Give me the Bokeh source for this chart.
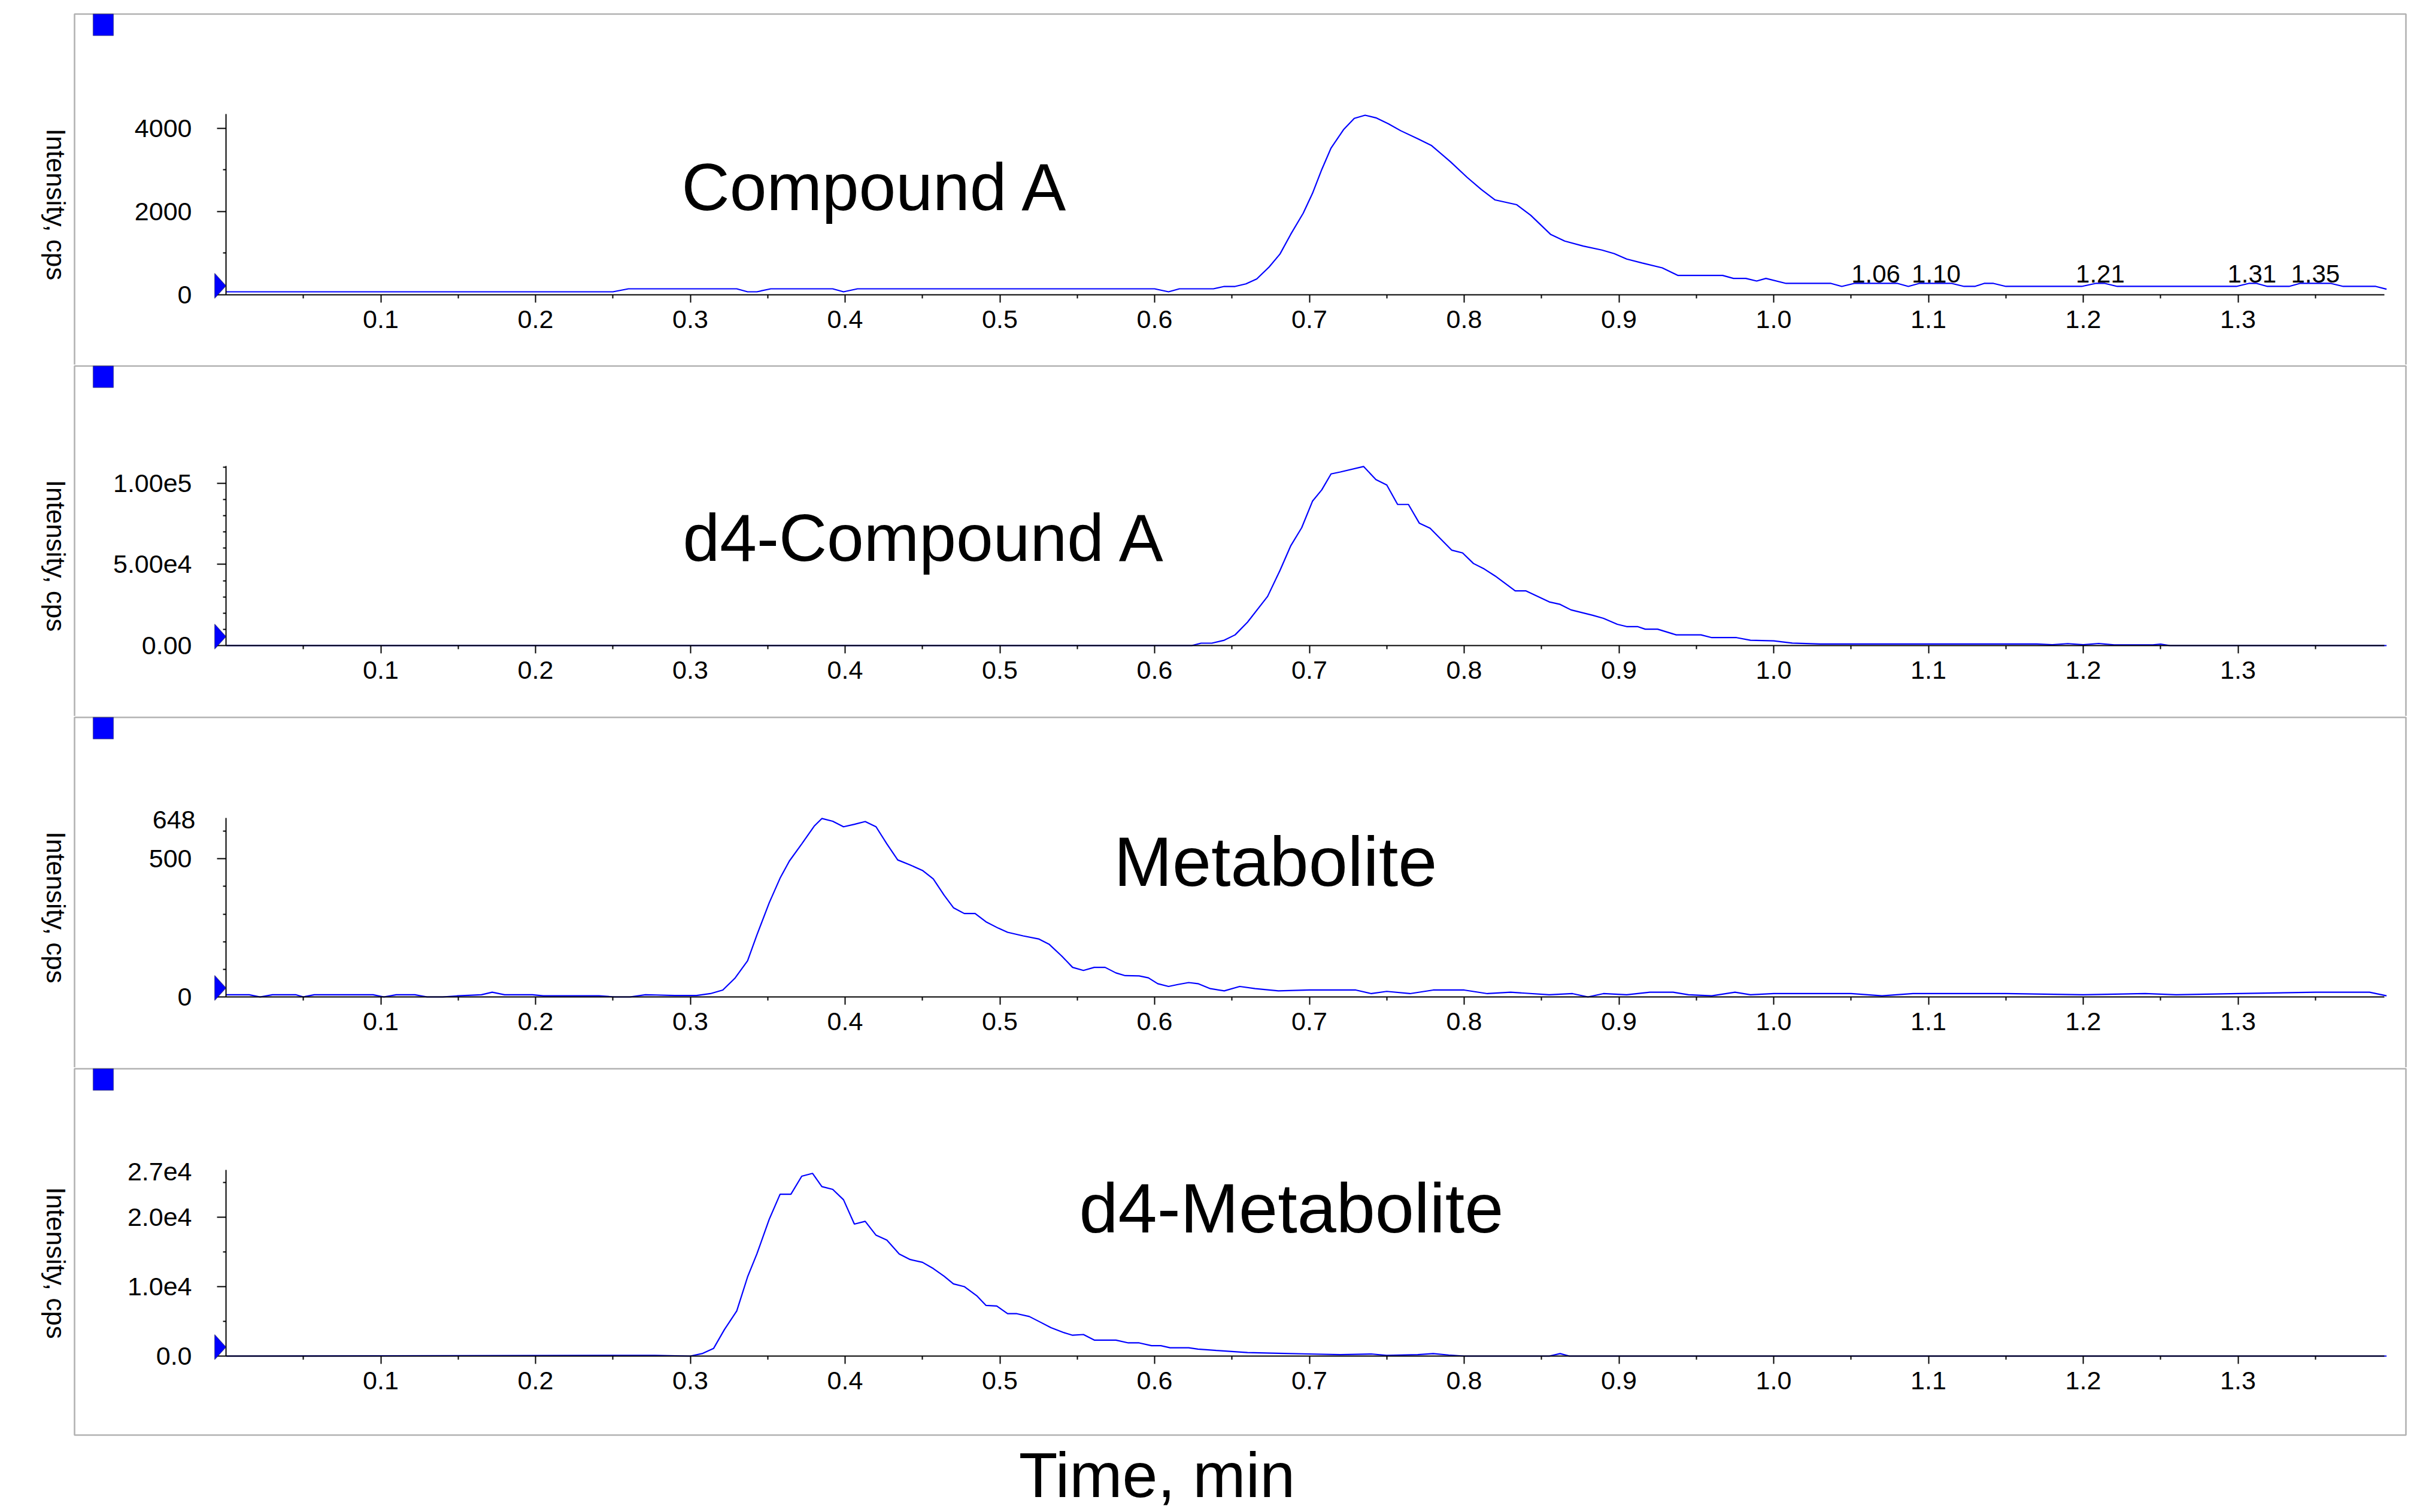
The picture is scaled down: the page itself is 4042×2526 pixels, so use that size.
import math

from bokeh.plotting import figure
from bokeh.layouts import column
from bokeh.models import (Range1d, FixedTicker, PrintfTickFormatter, BoxAnnotation,
                          PolyAnnotation, Label, LinearAxis)
from bokeh.core.properties import value
from bokeh.embed import file_html
from bokeh.resources import INLINE

FONT = "Liberation Sans"
BLUE = "#0000ff"

# ---- data (time in min, intensity in cps) ----
panel_names = ["Compound A", "d4-Compound A", "Metabolite", "d4-Metabolite"]

cmpd_time = [0.000, 0.250, 0.260, 0.330, 0.337, 0.343, 0.352, 0.392, 0.399, 0.408,
             0.600, 0.609, 0.616, 0.638, 0.645, 0.652, 0.659, 0.666, 0.674, 0.681,
             0.688, 0.696, 0.702, 0.708, 0.714, 0.722, 0.729, 0.736, 0.743, 0.751,
             0.759, 0.770, 0.779, 0.791, 0.802, 0.811, 0.820, 0.834, 0.843, 0.856,
             0.865, 0.877, 0.889, 0.897, 0.905, 0.915, 0.928, 0.938, 0.967, 0.974,
             0.982, 0.989, 0.995, 1.008, 1.037, 1.044, 1.052, 1.080, 1.087, 1.094,
             1.115, 1.123, 1.130, 1.136, 1.142, 1.150, 1.199, 1.208, 1.214, 1.222,
             1.299, 1.307, 1.312, 1.319, 1.333, 1.340, 1.360, 1.368, 1.389, 1.396]
cmpd_cps = [72, 72, 144, 144, 72, 72, 144, 144, 72, 144,
            144, 72, 144, 144, 201, 201, 263, 382, 669, 980,
            1458, 1960, 2438, 3011, 3528, 3967, 4240, 4316, 4254, 4111,
            3944, 3752, 3585, 3203, 2820, 2533, 2280, 2165, 1912, 1448,
            1291, 1171, 1076, 989, 860, 765, 648, 466, 466, 394,
            394, 331, 394, 274, 274, 202, 274, 274, 202, 274,
            274, 202, 202, 274, 274, 202, 202, 274, 274, 202,
            202, 274, 274, 202, 202, 274, 274, 202, 202, 134]

# labelled small peaks in the Compound A trace
peak_time = [1.066, 1.105, 1.211, 1.309, 1.350]
peak_cps = [274, 274, 274, 274, 274]
peak_text = ["1.06", "1.10", "1.21", "1.31", "1.35"]

d4_cmpd_time = [0.000, 0.624, 0.630, 0.637, 0.645, 0.652, 0.660, 0.673, 0.681, 0.688,
                0.695, 0.702, 0.708, 0.714, 0.720, 0.735, 0.743, 0.750, 0.757, 0.764,
                0.771, 0.778, 0.792, 0.799, 0.806, 0.813, 0.820, 0.833, 0.840, 0.855,
                0.862, 0.869, 0.883, 0.890, 0.899, 0.905, 0.912, 0.917, 0.925, 0.937,
                0.953, 0.960, 0.976, 0.985, 1.000, 1.012, 1.030, 1.170, 1.180, 1.190,
                1.200, 1.210, 1.220, 1.245, 1.250, 1.256, 1.396]
d4_cmpd_cps = [0, 0, 1470, 1470, 3300, 6600, 14400, 30300, 46300, 61600,
               72600, 89000, 96000, 105800, 107000, 110400, 102300, 99000, 87000, 87000,
               75500, 72300, 58800, 57100, 50600, 47200, 42900, 33700, 33700, 26900,
               25400, 22000, 18700, 16800, 13100, 11700, 11700, 10100, 10100, 6600,
               6600, 4900, 4900, 3300, 2900, 1500, 1000, 1000, 500, 1200,
               500, 1300, 400, 400, 900, 0, 0]

met_time = [0.000, 0.015, 0.022, 0.030, 0.045, 0.050, 0.057, 0.095, 0.102, 0.110,
            0.122, 0.130, 0.140, 0.150, 0.165, 0.172, 0.180, 0.198, 0.205, 0.241,
            0.251, 0.261, 0.271, 0.278, 0.290, 0.304, 0.313, 0.321, 0.329, 0.337,
            0.343, 0.351, 0.358, 0.364, 0.372, 0.380, 0.385, 0.392, 0.399, 0.406,
            0.413, 0.420, 0.427, 0.434, 0.442, 0.450, 0.457, 0.464, 0.470, 0.477,
            0.484, 0.491, 0.499, 0.505, 0.515, 0.525, 0.532, 0.540, 0.547, 0.554,
            0.561, 0.568, 0.575, 0.581, 0.590, 0.596, 0.602, 0.609, 0.615, 0.622,
            0.628, 0.636, 0.645, 0.655, 0.665, 0.680, 0.700, 0.730, 0.740, 0.750,
            0.765, 0.780, 0.800, 0.815, 0.830, 0.855, 0.870, 0.880, 0.890, 0.905,
            0.920, 0.935, 0.945, 0.960, 0.975, 0.985, 1.000, 1.050, 1.070, 1.090,
            1.150, 1.200, 1.240, 1.260, 1.300, 1.350, 1.385, 1.396]
met_cps = [8, 8, 0, 8, 8, 0, 8, 8, 0, 8,
           8, 0, 0, 4, 8, 17, 8, 8, 4, 4,
           0, 0, 8, 7, 5, 5, 12, 25, 69, 131,
           224, 341, 430, 492, 554, 618, 646, 636, 616, 625,
           635, 616, 554, 496, 478, 458, 427, 368, 323, 302,
           302, 272, 249, 234, 221, 210, 190, 148, 107, 96,
           107, 107, 87, 77, 76, 69, 48, 38, 45, 52,
           48, 30, 22, 38, 30, 22, 25, 25, 12, 20,
           12, 25, 25, 12, 17, 8, 12, 0, 12, 8,
           17, 17, 8, 4, 17, 8, 12, 12, 4, 12,
           12, 8, 12, 8, 12, 17, 17, 4]

d4_met_time = [0.000, 0.277, 0.300, 0.308, 0.315, 0.322, 0.330, 0.337, 0.343, 0.351,
               0.358, 0.365, 0.372, 0.379, 0.385, 0.392, 0.399, 0.406, 0.413, 0.420,
               0.427, 0.435, 0.442, 0.450, 0.457, 0.464, 0.470, 0.477, 0.485, 0.491,
               0.498, 0.505, 0.511, 0.519, 0.526, 0.533, 0.541, 0.547, 0.554, 0.561,
               0.575, 0.583, 0.590, 0.598, 0.604, 0.610, 0.622, 0.628, 0.640, 0.660,
               0.680, 0.700, 0.720, 0.740, 0.750, 0.770, 0.780, 0.790, 0.800, 0.855,
               0.862, 0.868, 1.396]
d4_met_cps = [0, 100, 0, 380, 1090, 3800, 6500, 11400, 14700, 19700,
              23300, 23300, 25900, 26300, 24400, 24000, 22500, 19000, 19400, 17400,
              16700, 14700, 13900, 13500, 12600, 11500, 10400, 10000, 8700, 7300,
              7200, 6100, 6100, 5700, 4900, 4100, 3400, 3000, 3100, 2300,
              2300, 1900, 1900, 1500, 1500, 1200, 1200, 1000, 800, 500,
              400, 300, 200, 300, 100, 200, 350, 150, 0, 0,
              350, 0, 0]

# axis ticks
x_major = [0.1, 0.2, 0.3, 0.4, 0.5, 0.6, 0.7, 0.8, 0.9, 1.0, 1.1, 1.2, 1.3]
x_minor = [0.05, 0.15, 0.25, 0.35, 0.45, 0.55, 0.65, 0.75, 0.85, 0.95, 1.05, 1.15,
           1.25, 1.35]
x_end = 1.3946

y_major = [[0, 2000, 4000], [0, 50000, 100000], [0, 500], [0, 10000, 20000]]
y_major_text = [["0", "2000", "4000"], ["0.00", "5.00e4", "1.00e5"], ["0", "500"],
                ["0.0", "1.0e4", "2.0e4"]]
y_minor = [[1000, 3000],
           [10000, 20000, 30000, 40000, 60000, 70000, 80000, 90000, 110000],
           [100, 200, 300, 400, 600],
           [5000, 15000, 25000]]
y_end = [4345, 110700, 648, 26800]
y_top_text = [None, None, "648", "2.7e4"]

series = [(cmpd_time, cmpd_cps), (d4_cmpd_time, d4_cmpd_cps),
          (met_time, met_cps), (d4_met_time, d4_met_cps)]

# ---- layout, in canvas pixels of each panel figure ----
FIG_W = 4030
X0 = 377            # canvas x of t = 0
X_PX = 2585         # pixels per minute
# h: figure height, top/base: canvas y of y_end / of 0, box: panel frame top,
# tx/ty: title left and baseline, tfs: title font size, gap: top value label gap
layout = [
    dict(h=609, top=190, base=492, box=23, tx=1138, ty=351, tfs=111, gap=0),
    dict(h=587, top=169, base=469, box=2, tx=1140, ty=328, tfs=111, gap=0),
    dict(h=587, top=170, base=469, box=2, tx=1860, ty=284, tfs=117, gap=51),
    dict(h=742, top=171, base=482, box=2, tx=1802, ty=276, tfs=117, gap=57),
]
MID = 0.35  # distance baseline -> text middle, in em

figs = []
for i, (t, cps) in enumerate(series):
    lay = layout[i]
    h = lay["h"]
    ppu = (lay["base"] - lay["top"]) / y_end[i]
    p = figure(width=FIG_W, height=h, output_backend="svg", toolbar_location=None,
               x_range=Range1d(-X0 / X_PX, (FIG_W - X0) / X_PX),
               y_range=Range1d(-(h - lay["base"]) / ppu, lay["base"] / ppu),
               x_axis_location=None, y_axis_location=None, tools="",
               min_border_left=0, min_border_right=0, min_border_top=0,
               min_border_bottom=0)
    p.outline_line_color = None
    p.grid.visible = False
    p.background_fill_color = "white"
    p.border_fill_color = "white"

    p.line(t, cps, line_color=BLUE, line_width=2.2)

    xaxis = LinearAxis(fixed_location=0, bounds=(0, x_end),
                       ticker=FixedTicker(ticks=x_major, minor_ticks=x_minor),
                       formatter=PrintfTickFormatter(format="%.1f"))
    yaxis = LinearAxis(fixed_location=0, bounds=(0, y_end[i]),
                       ticker=FixedTicker(ticks=y_major[i], minor_ticks=y_minor[i]))
    yaxis.major_label_overrides = dict(zip(y_major[i], y_major_text[i]))
    for ax in (xaxis, yaxis):
        ax.axis_line_width = 2
        ax.axis_line_color = "black"
        ax.major_tick_line_width = 2
        ax.minor_tick_line_width = 2
        ax.major_tick_in = 0
        ax.minor_tick_in = 0
        ax.major_label_text_font = FONT
        ax.major_label_text_font_size = "43px"
        ax.major_label_text_color = "black"
    xaxis.major_tick_out = 13
    xaxis.minor_tick_out = 6
    xaxis.major_label_standoff = 13
    yaxis.major_tick_out = 15
    yaxis.minor_tick_out = 5
    yaxis.major_label_standoff = 42
    p.add_layout(xaxis, "below")
    p.add_layout(yaxis, "left")

    # label of the axis top value
    if y_top_text[i]:
        p.add_layout(Label(x=X0 - lay["gap"], y=h - lay["top"] - 3, x_units="screen",
                           y_units="screen", text=y_top_text[i], text_align="right",
                           text_baseline="middle", text_color="black",
                           text_font=FONT, text_font_size="43px"))

    # rotated y label
    p.add_layout(Label(x=93, y=h - (lay["top"] + lay["base"]) / 2, x_units="screen",
                       y_units="screen", text="Intensity, cps", angle=-math.pi / 2,
                       text_align="center", text_baseline="middle", text_color="black",
                       text_font=FONT, text_font_size="44px"))

    # compound name
    p.add_layout(Label(x=lay["tx"], y=h - lay["ty"] + MID * lay["tfs"], x_units="screen",
                       y_units="screen", text=panel_names[i], text_align="left",
                       text_baseline="middle", text_color="black", text_font=FONT,
                       text_font_size=f"{lay['tfs']}px"))

    # panel frame and the little blue marker in its corner
    box_bottom = 614 if i == 3 else h + 10
    p.add_layout(BoxAnnotation(left=124, right=4018, top=lay["box"], bottom=box_bottom,
                               left_units="canvas", right_units="canvas",
                               top_units="canvas", bottom_units="canvas",
                               fill_alpha=0, line_color="black", line_width=2.6,
                               level="overlay"))
    p.add_layout(BoxAnnotation(left=155, right=189, top=lay["box"], bottom=lay["box"] + 36,
                               left_units="canvas", right_units="canvas",
                               top_units="canvas", bottom_units="canvas",
                               fill_color=BLUE, fill_alpha=1, line_color="black",
                               line_width=1.5, level="overlay"))
    # threshold arrow on the intensity axis
    b = h - lay["base"]
    p.add_layout(PolyAnnotation(xs=[X0 - 19, X0, X0 - 19], ys=[b + 36, b + 15, b - 6],
                                xs_units="screen", ys_units="screen",
                                fill_color=BLUE, fill_alpha=1, line_color="black",
                                line_width=1.5, level="overlay"))

    if i == 0:
        p.text(x=peak_time, y=peak_cps, text=peak_text, text_font=value(FONT),
               text_font_size="42px", text_align="center", text_baseline="alphabetic",
               y_offset=-16, text_color="black")
    if i == 3:
        # baseline kept just high enough for the whole text box to stay on the page
        p.add_layout(Label(x=1932, y=h - 718 + MID * 106, x_units="screen",
                           y_units="screen", text="Time, min", text_align="center",
                           text_baseline="middle", text_color="black", text_font=FONT,
                           text_font_size="106px"))
    figs.append(p)

page = column(*figs, spacing=0)
open("out.html", "w").write(file_html(page, INLINE))
